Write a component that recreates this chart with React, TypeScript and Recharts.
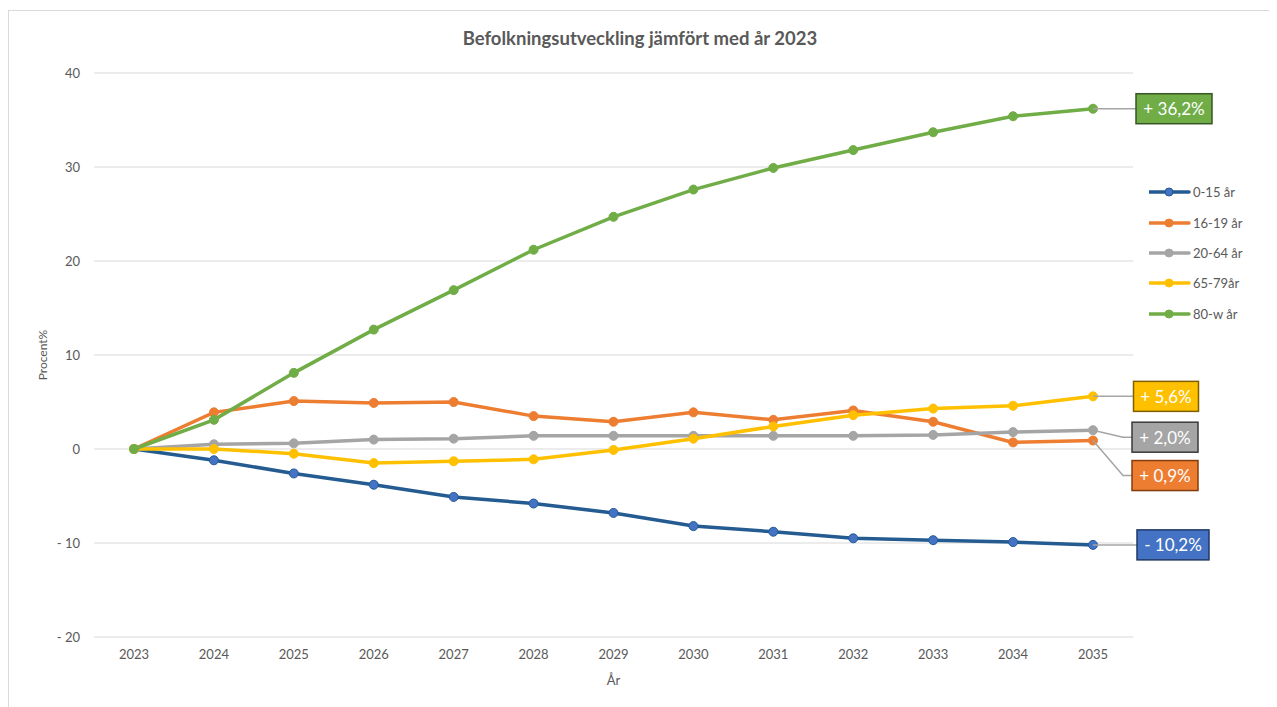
import { CartesianGrid, LabelList, Line, LineChart, XAxis, YAxis } from 'recharts'

const years = ['2023', '2024', '2025', '2026', '2027', '2028', '2029', '2030', '2031', '2032', '2033', '2034', '2035']
const age0to15 = [0, -1.2, -2.6, -3.8, -5.1, -5.8, -6.8, -8.2, -8.8, -9.5, -9.7, -9.9, -10.2]
const age16to19 = [0, 3.9, 5.1, 4.9, 5.0, 3.5, 2.9, 3.9, 3.1, 4.1, 2.9, 0.7, 0.9]
const age20to64 = [0, 0.5, 0.6, 1.0, 1.1, 1.4, 1.4, 1.4, 1.4, 1.4, 1.5, 1.8, 2.0]
const age65to79 = [0, 0.0, -0.5, -1.5, -1.3, -1.1, -0.1, 1.1, 2.4, 3.6, 4.3, 4.6, 5.6]
const age80plus = [0, 3.1, 8.1, 12.7, 16.9, 21.2, 24.7, 27.6, 29.9, 31.8, 33.7, 35.4, 36.2]
const yTicks = [-20, -10, 0, 10, 20, 30, 40]

const data = years.map((year, i) => ({
  year,
  a: age0to15[i],
  b: age16to19[i],
  c: age20to64[i],
  d: age65to79[i],
  e: age80plus[i],
}))

// callout boxes at the end of each line (offsets from the last point)
const series = [
  { key: 'a', name: '0-15 år', color: '#245B91', dot: '#4472C4', box: '#4472C4', border: '#1F3864', dx: 80, dy: 0, w: 72, elbow: false },
  { key: 'b', name: '16-19 år', color: '#ED7D31', dot: '#ED7D31', box: '#ED7D31', border: '#843C0C', dx: 72, dy: 35, w: 66, elbow: true },
  { key: 'c', name: '20-64 år', color: '#A5A5A5', dot: '#A5A5A5', box: '#A5A5A5', border: '#3A3A3A', dx: 72, dy: 7, w: 66, elbow: true },
  { key: 'd', name: '65-79år', color: '#FFC000', dot: '#FFC000', box: '#FFC000', border: '#7F6000', dx: 73, dy: 0, w: 65, elbow: false },
  { key: 'e', name: '80-w år', color: '#70AD47', dot: '#70AD47', box: '#70AD47', border: '#375623', dx: 81, dy: 0, w: 76, elbow: false },
]

const font = 'Lato, "Liberation Sans", sans-serif'

const fmtPct = (v: number) => `${v < 0 ? '-' : '+'} ${Math.abs(v).toFixed(1).replace('.', ',')}%`

function makeCallout(s: (typeof series)[number]) {
  return (props: any) => {
    const { x, y, value, index } = props
    if (index !== years.length - 1) return null
    const cx = x + s.dx
    const cy = y + s.dy
    const left = cx - s.w / 2
    const pts = s.elbow ? `${x},${y} ${x + 30},${cy} ${left},${cy}` : `${x},${y} ${left},${cy}`
    return (
      <g>
        <polyline points={pts} fill="none" stroke="#A5A5A5" strokeWidth={1.5} />
        <rect x={left} y={cy - 15} width={s.w} height={30} fill={s.box} stroke={s.border} strokeWidth={1.5} />
        <text x={cx} y={cy} textAnchor="middle" dominantBaseline="central" fill="#fff" fontSize={17} fontFamily={font}>
          {fmtPct(value)}
        </text>
      </g>
    )
  }
}

function LegendBox() {
  return (
    <div style={{ position: 'absolute', left: 1140, top: 166, fontFamily: font, fontSize: 13, color: '#595959' }}>
      {series.map((s) => (
        <div key={s.key} style={{ display: 'flex', alignItems: 'center', height: 30.4 }}>
          <svg width={42} height={10}>
            <line x1={0} y1={5} x2={40} y2={5} stroke={s.color} strokeWidth={3.5} strokeLinecap="round" />
            <circle cx={20} cy={5} r={4} fill={s.dot} stroke={s.color} strokeWidth={1} />
          </svg>
          <span style={{ marginLeft: 2 }}>{s.name}</span>
        </div>
      ))}
    </div>
  )
}

export default function App() {
  return (
    <div style={{ position: 'relative', width: 1262, height: 700, border: '1px solid #d9d9d9', marginTop: 2, background: '#fff' }}>
      <div
        style={{
          position: 'absolute',
          top: 16,
          left: 0,
          width: '100%',
          textAlign: 'center',
          fontFamily: font,
          fontWeight: 700,
          fontSize: 18.5,
          color: '#595959',
        }}
      >
        Befolkningsutveckling jämfört med år 2023
      </div>
      <LineChart width={1262} height={700} data={data} margin={{ top: 62, right: 138, left: 0, bottom: 14 }}>
        <CartesianGrid vertical={false} stroke="#d9d9d9" strokeWidth={1} />
        <XAxis
          dataKey="year"
          height={60}
          padding={{ left: 40, right: 40 }}
          axisLine={false}
          tickLine={false}
          tickMargin={7}
          tick={{ fill: '#595959', fontSize: 13, fontFamily: font }}
          label={{
            content: (p: any) => (
              <text x={p.viewBox.x + p.viewBox.width / 2} y={p.viewBox.y + 48} textAnchor="middle" fill="#595959" fontSize={13} fontFamily={font}>
                År
              </text>
            ),
          }}
        />
        <YAxis
          width={85}
          domain={[-20, 40]}
          ticks={yTicks}
          axisLine={false}
          tickLine={false}
          tickMargin={8}
          tickFormatter={(v: number) => (v < 0 ? `- ${-v}` : `${v}`)}
          tick={{ fill: '#595959', fontSize: 13, fontFamily: font }}
          label={{
            content: (p: any) => {
              const lx = 33
              const ly = p.viewBox.y + p.viewBox.height / 2
              return (
                <text x={lx} y={ly} transform={`rotate(-90 ${lx} ${ly})`} textAnchor="middle" dominantBaseline="central" fill="#595959" fontSize={12} fontFamily={font}>
                  Procent%
                </text>
              )
            },
          }}
        />
        {series.map((s) => (
          <Line
            key={s.key}
            type="linear"
            dataKey={s.key}
            name={s.name}
            stroke={s.color}
            strokeWidth={3.5}
            dot={{ r: 4.5, fill: s.dot, stroke: s.color, strokeWidth: 1 }}
            activeDot={false}
            isAnimationActive={false}
          >
            <LabelList dataKey={s.key} content={makeCallout(s)} />
          </Line>
        ))}
      </LineChart>
      <LegendBox />
    </div>
  )
}
